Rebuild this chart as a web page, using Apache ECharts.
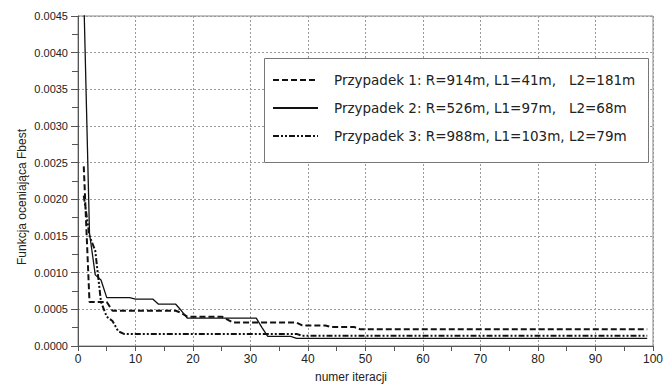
<!DOCTYPE html>
<html>
<head>
<meta charset="utf-8">
<script src="https://cdn.jsdelivr.net/npm/echarts@6/dist/echarts.min.js"></script>
<style>html,body{margin:0;padding:0;background:#fff}#c{width:666px;height:386px}</style>
</head>
<body>
<div id="c"></div>
<script>
// Names / labels
const seriesNames = [
  'Przypadek 1: R=914m, L1=41m,   L2=181m',
  'Przypadek 2: R=526m, L1=97m,   L2=68m',
  'Przypadek 3: R=988m, L1=103m, L2=79m'
];
const xAxisTitle = 'numer iteracji';
const yAxisTitle = 'Funkcja oceniająca Fbest';

// Iteration numbers (x values)
const iterations = [
  1,2,3,4,5,6,7,8,9,10,11,12,13,14,15,16,17,18,19,20,
  21,22,23,24,25,26,27,28,29,30,31,32,33,34,35,36,37,38,39,40,
  41,42,43,44,45,46,47,48,49,50,51,52,53,54,55,56,57,58,59,60,
  61,62,63,64,65,66,67,68,69,70,71,72,73,74,75,76,77,78,79,80,
  81,82,83,84,85,86,87,88,89,90,91,92,93,94,95,96,97,98,99
];

// Przypadek 1 (dashed)
const case1 = [
  0.00245,0.0006,0.0006,0.0006,0.0006,0.00048,0.00048,0.00048,0.00048,0.00048,
  0.00048,0.00048,0.00048,0.00048,0.00048,0.00048,0.00048,0.00045,0.0004,0.0004,
  0.0004,0.0004,0.0004,0.0004,0.0004,0.00036,0.00032,0.00032,0.00032,0.00032,
  0.00032,0.00032,0.00032,0.00032,0.00032,0.00032,0.00032,0.00032,0.00028,0.00028,
  0.00028,0.00028,0.00028,0.00026,0.00026,0.00026,0.00026,0.00026,0.00023,0.00023,
  0.00023,0.00023,0.00023,0.00023,0.00023,0.00023,0.00023,0.00023,0.00023,0.00023,
  0.00023,0.00023,0.00023,0.00023,0.00023,0.00023,0.00023,0.00023,0.00023,0.00023,
  0.00023,0.00023,0.00023,0.00023,0.00023,0.00023,0.00023,0.00023,0.00023,0.00023,
  0.00023,0.00023,0.00023,0.00023,0.00023,0.00023,0.00023,0.00023,0.00023,0.00023,
  0.00023,0.00023,0.00023,0.00023,0.00023,0.00023,0.00023,0.00023,0.00023
];

// Przypadek 2 (solid)
const case2 = [
  0.0048,0.00154,0.00097,0.0009,0.00066,0.00066,0.00066,0.00066,0.00066,0.00064,
  0.00064,0.00064,0.00064,0.00057,0.00057,0.00057,0.00057,0.00048,0.00038,0.00038,
  0.00038,0.00038,0.00038,0.00038,0.00038,0.00038,0.00038,0.00038,0.00038,0.00038,
  0.00038,0.00025,0.00013,0.00013,0.00013,0.00013,0.00013,0.000105,0.000105,0.000105,
  0.000105,0.000105,0.000105,0.000105,0.000105,0.000105,0.000105,0.000105,0.000105,0.000105,
  0.000105,0.000105,0.000105,0.000105,0.000105,0.000105,0.000105,0.000105,0.000105,0.000105,
  0.000105,0.000105,0.000105,0.000105,0.000105,0.000105,0.000105,0.000105,0.000105,0.000105,
  0.000105,0.000105,0.000105,0.000105,0.000105,0.000105,0.000105,0.000105,0.000105,0.000105,
  0.000105,0.000105,0.000105,0.000105,0.000105,0.000105,0.000105,0.000105,0.000105,0.000105,
  0.000105,0.000105,0.000105,0.000105,0.000105,0.000105,0.000105,0.000105,0.000105
];

// Przypadek 3 (dash-dot)
const case3 = [
  0.00205,0.0015,0.0013,0.0006,0.0004,0.00034,0.0002,0.000165,0.000165,0.000165,
  0.000165,0.000165,0.000165,0.000165,0.000165,0.000165,0.000165,0.000165,0.000165,0.000165,
  0.000165,0.000165,0.000165,0.000165,0.000165,0.000165,0.000165,0.000165,0.000165,0.000165,
  0.000165,0.000165,0.000165,0.000165,0.000165,0.000165,0.000165,0.000165,0.00014,0.00014,
  0.00014,0.00014,0.00014,0.00014,0.00014,0.00014,0.00014,0.00014,0.00014,0.00014,
  0.00014,0.00014,0.00014,0.00014,0.00014,0.00014,0.00014,0.00014,0.00014,0.00014,
  0.00014,0.00014,0.00014,0.00014,0.00014,0.00014,0.00014,0.00014,0.00014,0.00014,
  0.00014,0.00014,0.00014,0.00014,0.00014,0.00014,0.00014,0.00014,0.00014,0.00014,
  0.00014,0.00014,0.00014,0.00014,0.00014,0.00014,0.00014,0.00014,0.00014,0.00014,
  0.00014,0.00014,0.00014,0.00014,0.00014,0.00014,0.00014,0.00014,0.00014
];

const pairs = vals => iterations.map((it, i) => [it, vals[i]]);
const lineStyles = [
  { color: '#111', width: 2, type: [6, 3] },
  { color: '#111', width: 1.3, type: 'solid' },
  { color: '#111', width: 2, type: [6, 2, 2, 2, 2, 2] }
];
const allData = [case1, case2, case3];

const chart = echarts.init(document.getElementById('c'), null, { renderer: 'svg' });
const font = '"Liberation Sans", Arial, sans-serif';

chart.setOption({
  animation: false,
  backgroundColor: '#fff',
  grid: { left: 78, right: 8, top: 16, bottom: 40, show: true, borderColor: '#888', borderWidth: 1 },
  xAxis: {
    type: 'value', min: 0, max: 100, interval: 10,
    axisLine: { show: true, lineStyle: { color: '#555', width: 1 } },
    axisTick: { show: true, length: 5, lineStyle: { color: '#555' } },
    minorTick: { show: true, splitNumber: 2, length: 5, lineStyle: { color: '#555' } },
    axisLabel: { fontFamily: font, fontSize: 12, color: '#222', margin: 7, showMaxLabel: true },
    splitLine: { show: true, lineStyle: { color: '#999', type: [2, 2], width: 1 } }
  },
  yAxis: {
    type: 'value', min: 0, max: 0.0045, interval: 0.0005,
    axisLine: { show: true, lineStyle: { color: '#555', width: 1 } },
    axisTick: { show: true, length: 7, lineStyle: { color: '#555' } },
    minorTick: { show: true, splitNumber: 2, length: 6, lineStyle: { color: '#555' } },
    axisLabel: { fontFamily: font, fontSize: 11, color: '#222', margin: 10, formatter: v => v.toFixed(4) },
    splitLine: { show: true, lineStyle: { color: '#999', type: [2, 2], width: 1 } }
  },
  legend: {
    orient: 'vertical', left: 272, top: 73, padding: 0,
    itemWidth: 45, itemHeight: 14, itemGap: 14,
    itemStyle: { color: 'rgba(0,0,0,0)', borderWidth: 0, opacity: 0 },
    textStyle: { fontFamily: '"DejaVu Sans", Verdana, sans-serif', fontSize: 13.5, color: '#222', padding: [0, 0, 0, 11] },
    data: seriesNames,
    z: 10
  },
  graphic: [
    { type: 'rect', z: 5, shape: { x: 264.5, y: 58.5, width: 384, height: 104 },
      style: { fill: '#fff', stroke: '#777', lineWidth: 1 } },
    { type: 'text', z: 5, x: 351, y: 377,
      style: { text: xAxisTitle, fontFamily: font, fontSize: 12, fill: '#222', align: 'center', verticalAlign: 'middle' } },
    { type: 'text', z: 5, x: 22, y: 197, rotation: Math.PI / 2,
      style: { text: yAxisTitle, fontFamily: font, fontSize: 12, fill: '#222', align: 'center', verticalAlign: 'middle' } }
  ],
  series: seriesNames.map((name, k) => ({
    name, type: 'line', symbol: 'none', showSymbol: false,
    data: pairs(allData[k]),
    lineStyle: lineStyles[k], itemStyle: { color: '#111' },
    clip: true, z: 2
  }))
});
</script>
</body>
</html>
